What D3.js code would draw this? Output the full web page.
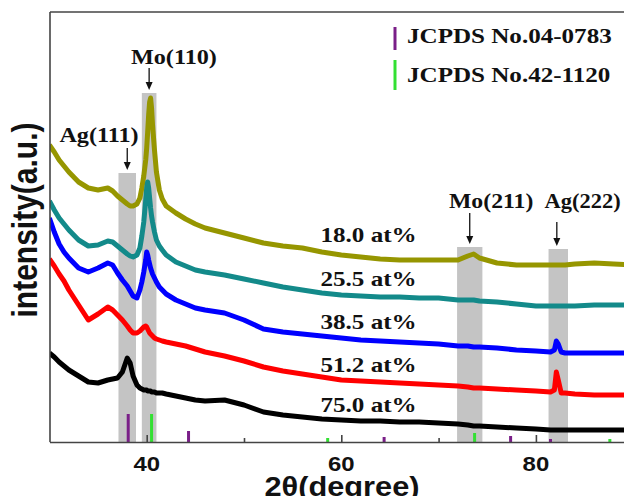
<!DOCTYPE html>
<html><head><meta charset="utf-8">
<script src="https://cdn.jsdelivr.net/npm/d3@7"></script>
<style>body{margin:0;background:#fff}svg{display:block}</style>
</head><body>
<svg id="c" width="624" height="496"></svg>
<script>
// ---------- data ----------
const twoTheta = [30,30.5,31,31.5,32,33,34,35,36,36.5,37,37.5,38,38.3,38.6,39,39.3,39.5,39.7,39.9,40.0,40.1,40.2,40.3,40.4,40.5,40.6,40.8,41,41.3,41.6,42,43,44,45,46,48,50,52,54,56,58,60,62,64,66,68,70,72,73,73.6,74.2,76,78,80,81.5,81.9,82.1,82.3,82.6,83,84,86,88,90];
const s18_0 = [297,290,282,276,270,260,254,252,254,251,246,242,238,236,236,238,244,254,266,282,294,310,327,340,344,334,317,292,270,252,243,236,229,223,218,214,209,204,199,196,194,190,187,185,183,182,182,182,182,186,188,184,179,177,177,177,177,177,177,177,177,178,179,178,177];
const s25_5 = [241,232,224,218,212,202,196,197,201,200,196,192,188,186,185,187,194,206,220,242,254,260,254,244,234,226,220,210,202,196,192,187,180,176,172,170,167,163,159,155,152,149,147,146,145,145,144,144,142,142,142,141,140,138,136,136,136,136,136,136,136,136,137,137,137];
const s38_5 = [224,210,198,190,184,174,170,174,179,177,169,162,156,151,146,144,152,160,170,182,190,187,182,178,174,171,168,164,160,155,152,148,142,138,134,132,129,122,113,110,108,106,104,102,101,100,99,98,96,96,95,95,94,92,91,90,92,101,98,90,89,89,89,89,89];
const s51_2 = [183,176,168,161,152,137,122,128,135,132,127,122,116,112,109,109,111,113,115,116,115,113,111,109,108,107,106,104,103,102,101,100,98,96,93,90,86,81,75,71,68,65,62,61,60,59,58,57,56,55,54,54,53,52,51,50,52,70,62,49,49,48,47,47,47];
const s75_0 = [89,85,80,76,72,66,60,59,62,63,64,70,84,79,66,57,54,53,52,52,52,51,51,51,51,50,50,50,49,49,49,48,46,44,42,41,42,37,30,27,25,23,22,21,21,20,20,19,18,17,16,16,15,14,13,12,12,12,12,12,12,12,12,12,12];
const seriesNames = ["18.0 at%","25.5 at%","38.5 at%","51.2 at%","75.0 at%"];

const agRefPos = [38.1,44.3,64.4,77.4,81.5];   // JCPDS No.04-0783
const agRefInt = [28,11,5,6,3];
const moRefPos = [40.5,58.6,73.7,87.6];        // JCPDS No.42-1120
const moRefInt = [28,4,9,3];
const legendNames = ["JCPDS No.04-0783","JCPDS No.42-1120"];

const peakNames = ["Ag(111)","Mo(110)","Mo(211)","Ag(222)"];
const peakPos = [38.0,40.25,73.2,82.15];
const bandLo = [37.1,39.5,71.9,81.3];
const bandHi = [38.9,41.0,74.5,83.3];
const bandTop = [269,349,195,193];

const xMajorTicks = [40,60,80];
const xMinorTicks = [50,70];

// ---------- styles / layout ----------
const colors = ["#969600","#138a8a","#0000ff","#ff0000","#000000"];
const serif = "'Liberation Serif','Times New Roman',serif";
const sans = "'Liberation Sans',Arial,sans-serif";
const SX = 1.14;

const svg = d3.select("#c");
const x = d3.scaleLinear().domain([30,90]).range([49.4,633.2]);
const y = d3.scaleLinear().domain([0,430]).range([442,12]);

svg.append("defs").append("clipPath").attr("id","clip")
  .append("rect").attr("x",50).attr("y",12).attr("width",600).attr("height",430);
const plot = svg.append("g").attr("clip-path","url(#clip)");

function stext(px, py, str, o){
  const g = svg.append("g").attr("transform",`translate(${px},${py}) scale(${o.sx||SX},1)` + (o.rot? " rotate(-90)":""));
  g.append("text").attr("x",0).attr("y",0)
    .attr("text-anchor",o.anchor||"middle")
    .attr("font-family",o.family).attr("font-weight","bold")
    .attr("font-size",o.size).attr("fill","#111").text(str);
}

// bands
plot.selectAll("rect.band").data(bandLo).join("rect").attr("class","band")
  .attr("x",d=>x(d)).attr("width",(d,i)=>x(bandHi[i])-x(d))
  .attr("y",(d,i)=>y(bandTop[i])).attr("height",(d,i)=>y(0)-y(bandTop[i]))
  .attr("fill","#c4c4c4");

// reference sticks
plot.selectAll("line.ag").data(agRefPos).join("line").attr("class","ag")
  .attr("x1",d=>x(d)).attr("x2",d=>x(d)).attr("y1",y(0)).attr("y2",(d,i)=>y(agRefInt[i]))
  .attr("stroke","#7a1f88").attr("stroke-width",3);
plot.selectAll("line.mo").data(moRefPos).join("line").attr("class","mo")
  .attr("x1",d=>x(d)).attr("x2",d=>x(d)).attr("y1",y(0)).attr("y2",(d,i)=>y(moRefInt[i]))
  .attr("stroke","#33e033").attr("stroke-width",3);

// series
const line = d3.line().x(d=>x(d[0])).y(d=>y(d[1]));
const allSeries = [s18_0,s25_5,s38_5,s51_2,s75_0];
allSeries.forEach((vals,i)=>{
  plot.append("path").datum(twoTheta.map((t,j)=>[t,vals[j]]))
    .attr("d",line).attr("fill","none").attr("stroke",colors[i])
    .attr("stroke-width",5).attr("stroke-linejoin","round");
});

// axes
svg.append("g").attr("transform",`translate(0,${y(0)})`)
  .call(d3.axisBottom(x).tickValues(xMajorTicks).tickSize(-7).tickSizeOuter(0).tickFormat(""))
  .call(g=>g.selectAll("path,line").attr("stroke","#444").attr("stroke-width",1.6));
svg.append("g").attr("transform",`translate(0,${y(0)})`)
  .call(d3.axisBottom(x).tickValues(xMinorTicks).tickSize(-4).tickSizeOuter(0).tickFormat(""))
  .call(g=>g.select("path").remove())
  .call(g=>g.selectAll("line").attr("stroke","#444").attr("stroke-width",1.6));
svg.append("line").attr("x1",50).attr("x2",50).attr("y1",y(430)).attr("y2",y(0))
  .attr("stroke","#444").attr("stroke-width",1.6);
svg.append("line").attr("x1",50).attr("x2",624).attr("y1",y(430)).attr("y2",y(430))
  .attr("stroke","#444").attr("stroke-width",1.6);

xMajorTicks.forEach(t=>stext(x(t),470.5,String(t),{family:sans,size:21}));
stext(342,495.5,"2θ(degree)",{family:sans,size:27});
stext(37,220,"intensity(a.u.)",{family:sans,size:30,rot:true});

// peak annotations
const labelPos = [[35.1,300],[42.8,378],[75.4,234],[84.8,234]];
const labelSX = [1.1,1.1,1.08,1.02];
const arrowStart = [148,68,213,222];
peakNames.forEach((n,i)=>{
  stext(x(labelPos[i][0]),y(labelPos[i][1]),n,{family:serif,size:22,sx:labelSX[i]});
  const px = x(peakPos[i]), tip = y(bandTop[i])-3;
  svg.append("line").attr("x1",px).attr("x2",px).attr("y1",arrowStart[i]).attr("y2",tip-6)
    .attr("stroke","#111").attr("stroke-width",1.3);
  svg.append("path").attr("d",`M${px-3.5},${tip-8}L${px+3.5},${tip-8}L${px},${tip}Z`).attr("fill","#111");
});

// series labels
const seriesLabelInt = [200,156,113,70,30];
seriesNames.forEach((n,i)=>stext(x(62.8),y(seriesLabelInt[i]),n,{family:serif,size:22}));

// legend
const legendColors = ["#7a1f88","#33e033"];
const legendBar = [[27,50],[60,90]];
const legendBase = [43,82];
legendNames.forEach((n,i)=>{
  svg.append("line").attr("x1",395).attr("x2",395).attr("y1",legendBar[i][0]).attr("y2",legendBar[i][1])
    .attr("stroke",legendColors[i]).attr("stroke-width",3);
  stext(407,legendBase[i],n,{family:serif,size:22,anchor:"start"});
});
</script>
</body></html>
